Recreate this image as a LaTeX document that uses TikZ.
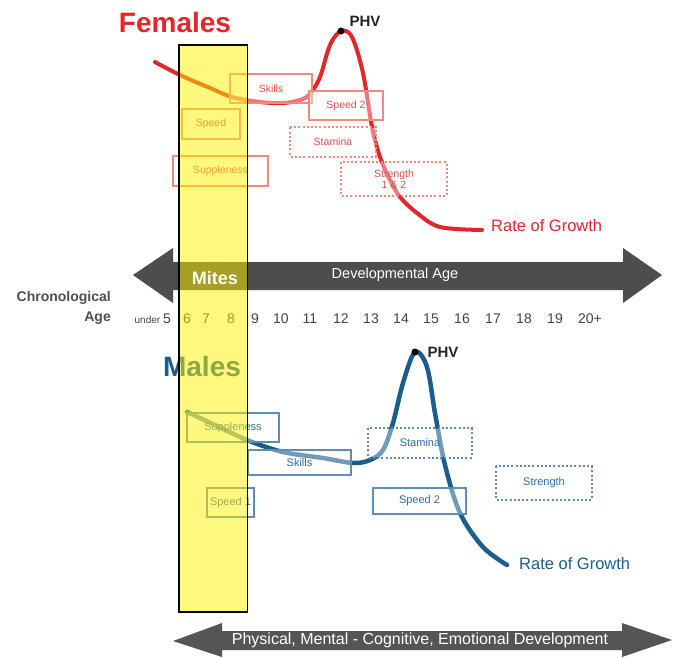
\documentclass[tikz,border=0pt]{standalone}
\usepackage{fontspec}
\setmainfont{Liberation Sans}
\definecolor{fred}{HTML}{E2262C}
\definecolor{fbord}{HTML}{F08A7C}
\definecolor{ftext}{HTML}{E2504F}
\definecolor{mblue}{HTML}{1B5E8C}
\definecolor{mbord}{HTML}{5F8DB9}
\definecolor{mtext}{HTML}{2E6DA4}
\definecolor{darkarrow}{HTML}{4D4D4D}
\definecolor{lowarrow}{HTML}{555555}
\definecolor{numgray}{HTML}{444444}
\definecolor{labgray}{HTML}{505050}
\begin{document}
\begin{tikzpicture}[x=1pt,y=-1pt,
  fs/.style={font=\fontsize{#1}{#1}\selectfont},
  fbox/.style={draw=fbord, line width=1.1pt, fill=white, fill opacity=0.38, text opacity=1, text=ftext, inner sep=0pt, font=\fontsize{10.5}{12}\selectfont},
  mbox/.style={draw=mbord, line width=1.1pt, fill=white, fill opacity=0.38, text opacity=1, text=mtext, inner sep=0pt, font=\fontsize{11}{12}\selectfont},
  dotbox/.style={line width=2pt, dash pattern=on 2pt off 2.2pt},
  agenum/.style={text=numgray, font=\fontsize{14}{14}\selectfont, inner sep=0pt},
  growth/.style={line width=4pt, line cap=round, line join=round}
]
\useasboundingbox (0,0) rectangle (673,657);
\fill[white] (0,0) rectangle (673,657);

% developmental age arrow
\fill[darkarrow] (133,275) -- (173,248) -- (173,262) -- (623,262) -- (623,248) -- (662,275) -- (623,303) -- (623,290) -- (173,290) -- (173,303) -- cycle;
\node[text=white, fs=14.5, inner sep=0pt] (devage) at (395,275) {Developmental Age};

% bottom arrow
\fill[lowarrow] (173,641) -- (222,623) -- (222,631) -- (622,631) -- (622,623) -- (672,640) -- (622,657) -- (622,650) -- (222,650) -- (222,657) -- cycle;
\node[text=white, fs=16, inner sep=0pt] (devlow) at (420,640.5) {Physical, Mental - Cognitive, Emotional Development};

% chronological age
\node[text=labgray, font=\bfseries\fontsize{14}{14}\selectfont, anchor=east, inner sep=0pt] (chrono) at (111,298) {Chronological};
\node[text=labgray, font=\bfseries\fontsize{14}{14}\selectfont, anchor=east, inner sep=0pt] (agelab) at (111,318) {Age};
\node[text=numgray, inner sep=0pt, anchor=base east] (under) at (171,323) {{\fontsize{10}{10}\selectfont under} {\fontsize{14}{14}\selectfont 5}};
\node[agenum] (a6) at (187,319) {6};
\node[agenum] (a7) at (206,319) {7};
\node[agenum] (a8) at (231,319) {8};
\node[agenum] (a9) at (255,319) {9};
\node[agenum] (a10) at (281,319) {10};
\node[agenum] (a11) at (310,319) {11};
\node[agenum] (a12) at (341,319) {12};
\node[agenum] (a13) at (371,319) {13};
\node[agenum] (a14) at (401,319) {14};
\node[agenum] (a15) at (431,319) {15};
\node[agenum] (a16) at (462,319) {16};
\node[agenum] (a17) at (493,319) {17};
\node[agenum] (a18) at (524,319) {18};
\node[agenum] (a19) at (555,319) {19};
\node[agenum] (a20) at (590,319) {20+};

% female curve
\draw[growth, fred] plot[smooth, tension=0.55] coordinates {(155,62) (180,75) (210,88) (232,97) (260,102) (283,103) (300,100) (310,94) (320,77) (330,45) (341,31) (352,37) (363,73) (372,127) (380,157) (390,180) (400,197) (417,213) (440,227) (482,230)};
\fill[black] (341,31) circle (3.5);
\node[font=\bfseries\fontsize{15}{15}\selectfont, inner sep=0pt, text=black!85] (fphv) at (365,21) {PHV};
\node[text=fred, font=\bfseries\fontsize{28}{28}\selectfont, inner sep=0pt] (females) at (175,22) {Females};
\node[text=fred, fs=16.5, inner sep=0pt, anchor=west] (frog) at (491,226) {Rate of Growth};

% female boxes
\node[fbox, minimum width=82pt, minimum height=29pt] (fskills) at (271,88.5) {Skills};
\node[fbox, minimum width=74pt, minimum height=29pt] (fspeed2) at (346,105.5) {Speed 2};
\node[fbox, minimum width=58pt, minimum height=30pt] (fspeed) at (211,124) {Speed};
\node[fbox, draw=none, minimum width=84pt, minimum height=28pt] (fstamina) at (333,142) {Stamina};
\draw[fbord, dotbox] (fstamina.north west) rectangle (fstamina.south east);
\node[fbox, minimum width=95pt, minimum height=30pt] (fsupple) at (220.5,171) {Suppleness};
\node[fbox, draw=none, minimum width=104pt, minimum height=32pt, align=center, font=\fontsize{10.5}{11}\selectfont] (fstrength) at (394,179) {Strength\\1 \& 2};
\draw[fbord, dotbox] (fstrength.north west) rectangle (fstrength.south east);

% male curve
\draw[growth, mblue, line width=4.5pt] plot[smooth, tension=0.55] coordinates {(187,412) (215,425) (247,440) (283,452) (323,458) (353,463) (370,460) (383,450) (393,423) (403,383) (415,352) (427,367) (435,413) (445,465) (460,513) (483,547) (507,565)};
\fill[black] (415,352) circle (3.5);
\node[font=\bfseries\fontsize{15}{15}\selectfont, inner sep=0pt, text=black!85] (mphv) at (443,352) {PHV};
\node[text=mblue, font=\bfseries\fontsize{28}{28}\selectfont, inner sep=0pt] (males) at (202,366) {Males};
\node[text=mblue, fs=16.5, inner sep=0pt, anchor=west] (mrog) at (519,564) {Rate of Growth};

% male boxes
\node[mbox, minimum width=92pt, minimum height=29pt] (msupple) at (233,427.5) {Suppleness};
\node[mbox, minimum width=103pt, minimum height=25pt] (mskills) at (299.5,462.5) {Skills};
\node[mbox, draw=none, minimum width=102pt, minimum height=28pt] (mstamina) at (420,443) {Stamina};
\draw[mbord, dotbox] (mstamina.north west) rectangle (mstamina.south east);
\node[mbox, minimum width=47pt, minimum height=29pt] (mspeed1) at (230.5,502.5) {Speed 1};
\node[mbox, minimum width=93pt, minimum height=26pt] (mspeed2) at (419.5,501) {Speed 2};
\node[mbox, draw=none, minimum width=94pt, minimum height=32pt] (mstrength) at (544,483) {Strength};
\draw[mbord, dotbox] (mstrength.north west) rectangle (mstrength.south east);

% mites band
\fill[yellow, fill opacity=0.5] (179,45) rectangle (247.5,612);
\draw[black, line width=1.2pt] (179,45) rectangle (247.5,612);
\node[text=white!92!yellow, font=\bfseries\fontsize{18}{18}\selectfont, inner sep=0pt] (mites) at (215,278) {Mites};
\end{tikzpicture}
\end{document}
